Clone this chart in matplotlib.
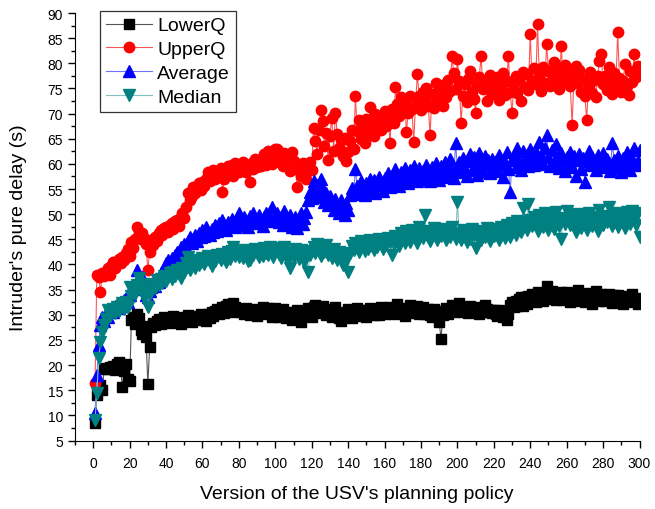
import matplotlib.pyplot as plt
import numpy as np
from matplotlib.ticker import MultipleLocator

plt.rcParams['font.family'] = ['Liberation Sans', 'DejaVu Sans']

versions = list(range(1, 301))

lower_q = [
    8.5, 14.0, 15.2, 16.0, 15.0, 19.3, 19.5, 19.2, 19.6, 19.4, 19.8, 19.0, 20.3, 20.6, 19.5, 15.6, 18.8, 20.2, 17.2, 16.8,
    28.9, 29.5, 28.2, 30.2, 29.4, 27.0, 26.2, 27.8, 25.5, 16.2, 23.6, 27.5, 28.4, 27.9, 28.8, 29.2, 28.1, 28.9, 29.5, 28.6,
    29.0, 28.4, 29.3, 29.8, 28.7, 28.9, 29.4, 28.2, 29.6, 29.0, 28.8, 29.9, 29.2, 28.5, 29.3, 29.7, 28.9, 29.5, 30.1, 29.2,
    29.6, 28.8, 30.2, 29.4, 30.5, 29.8, 30.8, 31.2, 30.1, 30.6, 31.5, 30.4, 31.8, 32.2, 31.0, 30.5, 32.4, 31.6, 30.8, 31.2,
    30.5, 31.0, 30.2, 31.4, 30.8, 29.9, 30.6, 31.2, 30.4, 29.8, 31.0, 30.3, 31.6, 30.7, 30.1, 31.3, 30.5, 29.6, 30.9, 31.4,
    30.2, 29.5, 30.8, 31.1, 30.0, 29.4, 30.6, 29.8, 28.9, 30.3, 29.6, 30.9, 29.2, 28.6, 30.1, 29.7, 30.5, 31.4, 30.2, 29.5,
    31.5, 32.0, 30.8, 31.2, 30.4, 31.8, 30.6, 29.9, 31.1, 30.3, 29.6, 30.8, 31.5, 30.1, 29.4, 28.8, 30.2, 29.7, 30.6, 31.2,
    30.0, 29.3, 30.7, 30.2, 31.4, 30.6, 29.8, 31.0, 30.4, 29.6, 30.9, 31.3, 30.5, 29.9, 31.2, 30.7, 30.0, 31.5, 30.8, 30.2,
    31.0, 30.4, 31.6, 30.9, 30.2, 31.3, 32.2, 30.6, 31.1, 30.5, 29.8, 31.4, 30.7, 31.9, 30.3, 31.0, 30.6, 31.8, 30.1, 30.9,
    31.5, 30.2, 30.8, 31.2, 30.0, 29.6, 31.1, 30.4, 29.8, 28.6, 25.2, 29.9, 30.7, 31.3, 30.2, 31.0, 32.0, 30.6, 31.4, 30.8,
    32.4, 31.0, 30.5, 31.6, 30.9, 30.3, 31.8, 31.2, 30.6, 31.5, 30.8, 30.2, 31.3, 30.6, 31.9, 31.2, 30.5, 31.0, 30.4, 30.9,
    30.2, 29.8, 31.0, 30.5, 29.6, 30.8, 28.9, 30.2, 31.9, 32.6, 31.5, 32.8, 31.8, 33.2, 33.5, 31.7, 33.5, 32.2, 33.8, 32.9,
    34.2, 33.1, 32.5, 34.6, 33.5, 34.0, 32.8, 33.6, 35.8, 34.4, 33.2, 34.8, 33.6, 32.9, 34.1, 33.4, 34.6, 33.0, 33.8, 34.5,
    33.2, 32.6, 34.0, 33.5, 32.8, 34.9, 33.8, 33.1, 34.2, 32.5, 33.6, 34.4, 33.0, 32.2, 33.7, 34.8, 33.3, 32.7, 34.1, 33.5,
    32.8, 33.6, 34.2, 33.1, 32.4, 33.9, 33.2, 34.0, 32.6, 33.4, 32.1, 33.8, 33.0, 32.5, 33.6, 34.1, 32.8, 33.3, 32.2, 32.9,
]

upper_q = [
    16.5, 38.0, 37.5, 34.6, 38.3, 37.8, 38.5, 39.2, 38.0, 39.6, 40.5, 39.3, 40.2, 41.0, 40.3, 41.5, 40.8, 42.2, 43.0, 41.6,
    44.5, 43.2, 45.0, 47.5, 46.2, 45.0, 46.3, 45.2, 44.0, 38.9, 42.5, 44.9, 43.8, 45.5, 44.6, 46.2, 46.9, 45.8, 47.2, 47.5,
    46.5, 47.8, 48.2, 47.0, 48.6, 48.9, 47.6, 49.4, 50.3, 49.2, 51.5, 54.3, 52.8, 53.6, 55.5, 54.2, 55.0, 56.2, 54.8, 56.3,
    55.6, 57.0, 58.3, 56.5, 57.4, 58.8, 56.9, 57.6, 57.9, 59.2, 54.5, 57.0, 58.5, 59.6, 58.0, 59.8, 57.5, 60.2, 59.5, 58.4,
    59.0, 60.4, 58.6, 58.3, 59.6, 56.3, 60.2, 59.0, 61.0, 59.4, 60.8, 59.5, 60.5, 62.0, 59.8, 62.5, 61.2, 60.0, 61.6, 62.9,
    62.9, 61.5, 60.2, 59.5, 62.2, 60.8, 61.6, 58.6, 62.4, 60.5, 59.2, 55.5, 58.8, 57.5, 60.2, 58.2, 57.0, 59.5, 60.3, 58.8,
    67.2, 64.5, 62.0, 66.8, 70.8, 68.5, 63.5, 66.2, 60.8, 65.5, 69.2, 62.5, 70.2, 66.0, 63.2, 64.8, 61.5, 65.2, 60.5, 62.4,
    64.5, 66.8, 63.0, 73.4, 66.5, 68.8, 65.0, 67.5, 64.2, 69.0, 66.2, 71.4, 68.2, 65.5, 70.0, 67.2, 69.6, 66.8, 68.5, 70.5,
    67.6, 69.5, 64.2, 71.0, 68.2, 75.2, 72.0, 69.5, 73.2, 70.6, 72.6, 66.4, 70.2, 73.5, 71.0, 64.4, 71.8, 77.8, 73.4, 70.8,
    74.2, 72.5, 75.0, 71.6, 65.8, 73.8, 71.2, 76.0, 72.8, 75.4, 74.0, 71.5, 75.8, 73.2, 76.6, 74.5, 81.4, 78.0, 74.8, 80.8,
    76.5, 68.2, 73.5, 75.8, 72.4, 76.8, 78.4, 74.2, 73.0, 70.2, 75.6, 77.2, 81.4, 74.8, 76.2, 72.5, 75.0, 77.6, 73.8, 76.0,
    74.5, 77.2, 72.8, 75.6, 78.0, 73.6, 76.4, 81.4, 74.2, 70.2, 75.8, 77.5, 74.0, 76.8, 72.6, 78.2, 75.2, 77.8, 74.6, 85.8,
    76.5, 79.0, 75.8, 87.8, 77.2, 74.5, 79.2, 76.0, 83.8, 78.5, 75.4, 77.8, 80.2, 76.4, 78.8, 74.8, 83.4, 77.5, 79.6, 76.2,
    78.0, 75.4, 67.8, 77.2, 79.5, 76.0, 78.6, 74.2, 76.8, 73.5, 68.8, 75.6, 78.2, 74.0, 76.6, 73.2, 77.4, 80.5, 81.8, 75.8,
    77.5, 74.6, 79.2, 76.4, 73.8, 78.0, 75.2, 86.2, 77.0, 74.2, 76.5, 79.8, 75.5, 73.6, 78.4, 76.2, 81.8, 77.2, 79.5, 78.2,
]

average = [
    10.5, 18.0, 24.0, 27.9, 29.5, 28.8, 30.2, 29.6, 30.8, 31.2, 30.5, 31.6, 32.0, 31.3, 32.5, 31.8, 32.9, 33.4, 32.6, 34.0,
    35.2, 36.0, 35.5, 38.9, 37.2, 36.5, 37.6, 35.2, 34.0, 33.5, 34.8, 35.5, 36.2, 35.8, 37.0, 36.6, 38.3, 37.5, 38.8, 40.2,
    40.9, 39.8, 41.2, 40.5, 41.8, 42.5, 41.6, 43.5, 42.8, 44.0, 43.2, 44.6, 45.5, 44.2, 45.0, 45.8, 44.6, 46.2, 45.4, 46.8,
    45.6, 47.5, 46.2, 45.8, 47.0, 46.4, 47.8, 46.6, 48.2, 47.2, 48.9, 47.5, 46.8, 48.4, 47.6, 49.0, 48.2, 47.4, 49.2, 50.3,
    48.5, 47.8, 49.4, 48.6, 47.5, 49.6, 48.2, 50.3, 49.0, 48.4, 49.8, 48.8, 47.6, 49.5, 50.2, 48.6, 49.2, 51.5, 48.8, 49.6,
    50.2, 48.5, 49.4, 47.8, 50.6, 49.0, 48.2, 49.8, 47.5, 48.6, 49.5, 47.2, 48.8, 50.2, 48.0, 49.2, 50.5, 52.8, 54.5, 53.2,
    56.5, 54.2, 55.8, 53.5, 56.9, 55.0, 52.4, 54.2, 51.8, 53.6, 52.2, 50.8, 53.0, 51.6, 50.2, 52.8, 51.0, 49.8, 52.2, 50.9,
    53.8, 55.2, 54.0, 58.9, 55.6, 54.2, 56.5, 55.0, 53.8, 56.2, 54.6, 57.0, 55.4, 56.8, 54.2, 56.0, 57.4, 55.8, 54.6, 57.2,
    56.0, 58.2, 55.4, 57.6, 56.4, 59.0, 57.2, 55.6, 58.4, 56.8, 59.2, 57.6, 56.2, 58.8, 57.4, 59.6, 58.0, 56.6, 59.2, 57.8,
    58.6, 57.0, 59.8, 58.2, 56.5, 59.4, 57.8, 60.2, 58.4, 56.8, 59.6, 58.0, 60.4, 57.4, 59.0, 61.0, 58.6, 57.2, 64.2, 59.2,
    60.4, 58.4, 61.2, 59.0, 57.6, 60.6, 62.0, 58.8, 61.4, 59.6, 57.8, 62.2, 60.2, 58.4, 61.6, 59.8, 60.8, 58.2, 61.0, 59.4,
    60.6, 58.6, 61.8, 59.8, 57.4, 60.2, 62.4, 59.0, 54.5, 60.8, 61.6, 59.4, 63.2, 60.6, 58.8, 62.6, 60.2, 61.8, 59.6, 63.0,
    61.2, 59.8, 62.4, 60.6, 64.4, 61.8, 60.0, 63.2, 65.8, 61.4, 59.6, 62.8, 60.4, 64.0, 61.6, 59.2, 62.2, 60.8, 58.6, 61.4,
    60.2, 62.4, 59.4, 61.6, 57.6, 60.8, 62.0, 59.0, 61.2, 56.4, 60.6, 62.6, 59.8, 61.4, 60.0, 58.8, 61.8, 59.6, 60.4, 62.2,
    59.4, 61.0, 60.2, 58.6, 64.2, 60.8, 59.2, 61.6, 60.0, 58.4, 61.2, 59.6, 62.4, 60.4, 58.8, 61.0, 63.2, 59.8, 60.6, 62.8,
]

median = [
    9.0, 14.5, 21.5, 24.5, 26.5, 28.0, 29.2, 30.9, 29.8, 30.5, 31.2, 30.4, 31.6, 30.8, 31.8, 32.3, 31.2, 32.6, 31.5, 35.5,
    33.8, 35.0, 34.2, 36.0, 37.3, 36.2, 35.0, 33.5, 34.6, 31.5, 34.2, 35.6, 36.2, 35.4, 36.9, 36.0, 37.2, 36.4, 37.8, 36.8,
    37.5, 38.3, 37.2, 38.6, 37.8, 39.0, 38.2, 37.4, 39.2, 38.5, 40.2, 41.5, 38.9, 39.6, 40.4, 39.2, 40.8, 39.8, 40.5, 41.2,
    40.0, 40.9, 41.6, 40.4, 39.6, 41.2, 40.6, 41.8, 41.5, 40.8, 42.0, 41.2, 40.4, 42.4, 41.0, 42.6, 43.5, 41.6, 42.2, 41.4,
    42.0, 41.2, 42.8, 41.6, 40.6, 40.9, 42.4, 41.8, 43.0, 42.2, 41.4, 42.8, 41.6, 43.2, 42.3, 41.8, 43.4, 42.6, 41.4, 42.8,
    43.2, 42.0, 41.2, 42.6, 43.4, 41.8, 40.6, 39.3, 42.2, 41.4, 43.0, 42.2, 41.0, 42.8, 41.6, 40.4, 42.4, 38.5, 41.8, 42.6,
    43.4, 42.2, 44.0, 42.8, 41.6, 43.6, 42.4, 43.8, 41.8, 42.6, 41.2, 43.0, 42.0, 40.8, 42.4, 41.0, 39.8, 41.6, 40.6, 38.5,
    42.2, 43.6, 42.8, 44.2, 43.2, 42.4, 44.6, 43.4, 42.6, 44.0, 43.0, 44.8, 43.6, 42.8, 44.4, 43.4, 45.0, 44.2, 43.0, 44.6,
    43.8, 45.2, 44.4, 41.9, 44.0, 45.6, 44.6, 43.6, 46.2, 45.0, 44.2, 46.6, 45.2, 44.4, 46.8, 45.6, 44.8, 44.3, 47.4, 46.0,
    45.2, 49.9, 46.6, 45.4, 44.6, 46.2, 47.2, 45.8, 44.8, 46.4, 45.6, 47.0, 46.0, 44.8, 46.6, 45.4, 47.4, 46.2, 45.0, 52.5,
    46.0, 44.8, 46.8, 45.6, 44.4, 46.2, 45.0, 47.0, 45.8, 43.3, 45.6, 46.6, 44.8, 46.2, 45.4, 47.2, 45.8, 44.6, 46.8, 45.6,
    47.0, 46.0, 44.8, 47.4, 46.2, 45.2, 47.8, 46.6, 45.4, 48.2, 47.0, 45.8, 48.6, 47.2, 46.4, 51.2, 48.4, 46.8, 52.0, 48.8,
    47.6, 49.4, 48.2, 46.6, 49.8, 48.6, 47.4, 50.2, 48.0, 46.8, 49.6, 48.4, 47.0, 50.4, 48.8, 47.6, 45.0, 49.2, 48.0, 50.6,
    49.0, 47.8, 49.6, 48.4, 46.4, 50.0, 48.6, 47.2, 49.8, 48.2, 46.8, 50.2, 49.0, 47.6, 49.4, 48.2, 46.6, 50.8, 49.2, 47.8,
    49.6, 48.4, 51.4, 49.0, 47.6, 50.2, 48.8, 47.4, 50.0, 48.6, 49.4, 47.2, 50.4, 49.2, 48.0, 50.6, 49.2, 47.8, 50.2, 45.4,
]

fig = plt.figure(figsize=(6.55, 5.1), dpi=100)
ax = fig.add_axes([75 / 655, 1 - 441.5 / 510, (639.5 - 75) / 655, (441.5 - 14) / 510])

ax.plot(versions, lower_q, color='#555555', lw=0.8, marker='s', ms=6.5,
        mfc='black', mec='black', label='LowerQ')
ax.plot(versions, upper_q, color='#ff5555', lw=0.8, marker='o', ms=7.5,
        mfc='red', mec='red', label='UpperQ')
ax.plot(versions, average, color='#7070ff', lw=0.8, marker='^', ms=8,
        mfc='blue', mec='blue', label='Average')
ax.plot(versions, median, color='#80c0c0', lw=0.8, marker='v', ms=8,
        mfc='#008080', mec='#008080', label='Median')

ax.set_xlim(-10, 300)
ax.set_ylim(5, 90)
ax.xaxis.set_major_locator(MultipleLocator(20))
ax.xaxis.set_minor_locator(MultipleLocator(10))
ax.yaxis.set_major_locator(MultipleLocator(5))
ax.yaxis.set_minor_locator(MultipleLocator(2.5))
ax.tick_params(which='major', direction='out', length=5, width=1, labelsize=10)
ax.tick_params(which='minor', direction='out', length=3, width=1)
ax.tick_params(axis='x', which='major', pad=6)
ax.spines['top'].set_visible(False)
ax.spines['right'].set_visible(False)

ax.set_xlabel("Version of the USV's planning policy", fontsize=14)
ax.set_ylabel("Intruder's pure delay (s)", fontsize=14)
ax.xaxis.set_label_coords(0.5, -0.105)
ax.yaxis.set_label_coords(-0.085, 0.5)

leg = ax.legend(loc='upper left', bbox_to_anchor=(100 / 655, 1 - 12 / 510),
                bbox_transform=fig.transFigure, borderaxespad=0, numpoints=1,
                fontsize=14, handlelength=2.35, handletextpad=0.3,
                fancybox=False, framealpha=1, edgecolor='#333333',
                labelspacing=0.32, borderpad=0.3)
leg.get_frame().set_linewidth(0.9)

plt.savefig('out.png', dpi=100)
